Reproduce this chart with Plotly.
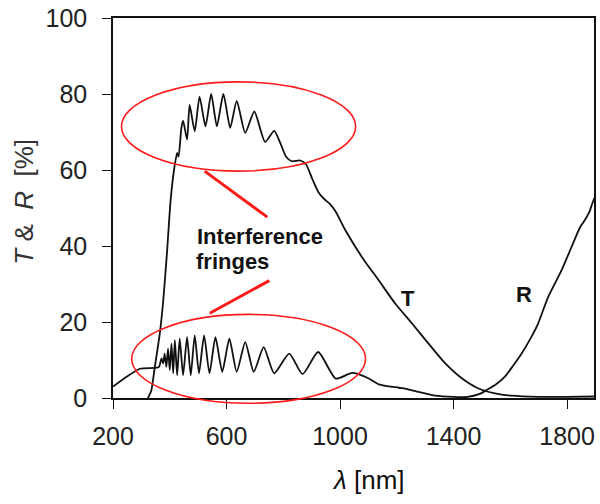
import plotly.graph_objects as go

# Transmittance T (%) versus wavelength (nm)
t_wavelength = [323, 335, 347, 365, 377, 390, 403, 415, 426, 431, 441, 447, 461, 470, 488, 505,
                526, 546, 566, 589, 613, 636, 666, 698, 736, 768, 790, 810, 830, 860, 880,
                903, 925, 945, 965, 985, 1020, 1078, 1137, 1195, 1254, 1312, 1371, 1429,
                1488, 1546, 1604, 1700, 1800, 1895]
t_values = [0, 2, 8, 17, 25.6, 38, 52, 60, 64.5, 63.5, 71, 73, 68, 77.1, 70.2, 79.3,
            71.5, 80.0, 71.5, 80.0, 71.1, 78.2, 69.8, 75.4, 67.4, 70.3, 67, 63.5, 62.3, 62.5, 61.5,
            57.5, 54, 52.3, 51, 49, 44, 37, 30.9, 24.8, 19.6, 14.3, 9.1, 5.2,
            2.5, 1.2, 0.6, 0.3, 0.3, 0.4]

# Reflectance R (%) versus wavelength (nm)
r_wavelength = [200, 248, 295, 347, 362, 371, 377, 382, 388, 394, 400, 406, 412, 418, 426,
                435, 447, 461, 474, 488, 503, 521, 540, 561, 585, 610, 636, 666, 696, 731,
                768, 821, 868, 923, 985, 1043, 1100, 1137, 1207, 1240, 1277, 1336, 1400,
                1450, 1490, 1517, 1550, 1581, 1610, 1640, 1670, 1698, 1733, 1780, 1815,
                1845, 1860, 1880, 1888, 1897]
r_values = [3.0, 5.6, 7.7, 7.9, 8.2, 10.4, 9.1, 11.7, 8.2, 13.0, 7.3, 14.3, 6.5, 15.2, 6.0,
            15.6, 6.0, 16.0, 6.0, 16.5, 6.5, 16.5, 6.5, 16.0, 6.9, 15.6, 6.9, 14.7, 6.9, 13.4,
            6.5, 11.7, 6.3, 12.1, 5.1, 6.6, 5.2, 3.6, 2.7, 2.3, 1.6, 0.6, 0.3,
            0.3, 1.0, 2.1, 3.6, 5.6, 8.5, 11.7, 15.5, 19.6, 26.5, 33.5, 39.6,
            44.8, 46.5, 49.2, 51.0, 52.7]

x_ticks = [200, 600, 1000, 1400, 1800]
y_ticks = [0, 20, 40, 60, 80, 100]
X_RANGE = [200, 1895]
Y_RANGE = [0, 100]

FONT = "Liberation Sans, Arial, sans-serif"
INK = "#111111"
RED = "#ff1a1a"
NB = "\u00a0"


def px(xv):
    return (xv - X_RANGE[0]) / (X_RANGE[1] - X_RANGE[0])


def py(yv):
    return (yv - Y_RANGE[0]) / (Y_RANGE[1] - Y_RANGE[0])


fig = go.Figure()
fig.add_trace(go.Scatter(x=t_wavelength, y=t_values, mode="lines", name="T",
                         line=dict(color=INK, width=1.8, shape="spline", smoothing=0.6)))
fig.add_trace(go.Scatter(x=r_wavelength, y=r_values, mode="lines", name="R",
                         line=dict(color=INK, width=1.8, shape="spline", smoothing=0.6)))

shapes = [
    # ellipse around the fringes on the transmission curve
    dict(type="circle", xref="paper", yref="paper",
         x0=px(230), x1=px(1055), y0=py(59.7), y1=py(83.2),
         line=dict(color=RED, width=1.6)),
    # ellipse around the fringes on the reflection curve
    dict(type="circle", xref="paper", yref="paper",
         x0=px(266), x1=px(1090), y0=py(-1.4), y1=py(22),
         line=dict(color=RED, width=1.6)),
    # pointers from the label to the ellipses
    dict(type="line", xref="paper", yref="paper",
         x0=px(523), y0=py(59.7), x1=px(744), y1=py(47.6),
         line=dict(color=RED, width=3)),
    dict(type="line", xref="paper", yref="paper",
         x0=px(541), y0=py(22.3), x1=px(751), y1=py(30.9),
         line=dict(color=RED, width=3)),
]

annotations = [
    dict(text="<b>Interference</b>", x=px(490), y=py(42.4), xref="paper", yref="paper",
         xanchor="left", yanchor="middle", showarrow=False,
         font=dict(family=FONT, size=22, color=INK)),
    dict(text="<b>fringes</b>", x=px(485), y=py(36.0), xref="paper", yref="paper",
         xanchor="left", yanchor="middle", showarrow=False,
         font=dict(family=FONT, size=22, color=INK)),
    dict(text="<b>T</b>", x=1239, y=26.2, xref="x", yref="y", showarrow=False,
         xanchor="center", yanchor="middle", font=dict(family=FONT, size=22, color=INK)),
    dict(text="<b>R</b>", x=1650, y=27.2, xref="x", yref="y", showarrow=False,
         xanchor="center", yanchor="middle", font=dict(family=FONT, size=22, color=INK)),
    dict(text="<i>λ</i> [nm]", x=px(1102), y=-0.215, xref="paper", yref="paper",
         xanchor="center", yanchor="middle", showarrow=False,
         font=dict(family=FONT, size=26, color=INK)),
    dict(text=f"<i>T</i> &amp;{NB} <i>R</i>{NB} [%]", x=-0.184, y=py(51.8),
         xref="paper", yref="paper",
         xanchor="center", yanchor="middle", textangle=-90, showarrow=False,
         font=dict(family=FONT, size=26, color="#333333")),
]

fig.update_layout(
    width=600, height=504,
    margin=dict(l=113, r=4, t=16, b=106),
    paper_bgcolor="white", plot_bgcolor="white",
    showlegend=False,
    shapes=shapes,
    annotations=annotations,
    font=dict(family=FONT, size=25, color="#222222"),
)
fig.update_xaxes(range=X_RANGE, tickvals=x_ticks, ticktext=[str(v) for v in x_ticks],
                 showgrid=False, zeroline=False, showline=True, linecolor=INK, linewidth=1.5,
                 mirror=True, ticks="outside", ticklen=9, tickwidth=1.3, tickcolor=INK,
                 ticklabelstandoff=6)
fig.update_yaxes(range=Y_RANGE, tickvals=y_ticks, ticktext=[str(v) for v in y_ticks],
                 showgrid=False, zeroline=False, showline=True, linecolor=INK, linewidth=1.5,
                 mirror=True, ticks="outside", ticklen=9, tickwidth=1.3, tickcolor=INK,
                 ticklabelstandoff=10)

fig.write_html("out.html")
